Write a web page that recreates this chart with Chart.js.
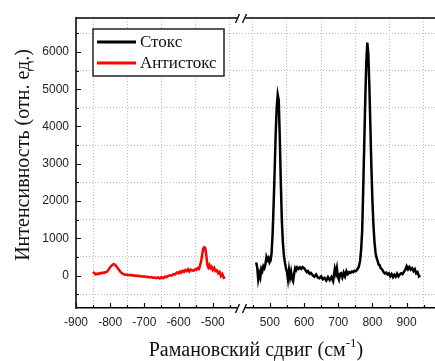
<!DOCTYPE html>
<html>
<head>
<meta charset="utf-8">
<script src="https://cdn.jsdelivr.net/npm/chart.js@4/dist/chart.umd.min.js"></script>
<style>
  html, body { margin: 0; padding: 0; background: #fff; }
</style>
</head>
<body>
<canvas id="myChart" width="435" height="361"></canvas>
<script>
// Anti-Stokes part of the spectrum (negative shifts)
const antiX = [-850, -846, -842, -838, -834, -830, -826, -822, -818, -814, -810, -806, -802, -798, -794, -790, -786, -782, -778, -774, -770, -766, -762, -758, -754, -750, -745, -740, -735, -730, -725, -720, -715, -710, -705, -700, -695, -690, -685, -680, -675, -670, -665, -660, -655, -650, -645, -640, -635, -630, -625, -620, -615, -610, -605, -600, -596, -592, -588, -584, -580, -576, -572, -568, -564, -560, -556, -552, -548, -544, -540, -537, -534, -531, -528, -525, -522, -519, -516, -513, -510, -507, -504, -500, -496, -492, -488, -484, -480, -476, -472, -468, -464];
const antiY = [100, 60, 30, 50, 40, 70, 60, 80, 70, 90, 100, 140, 200, 250, 280, 310, 290, 250, 200, 150, 100, 70, 40, 30, 20, 20, 10, 20, 0, 10, -10, 0, -20, -10, -30, -20, -40, -30, -50, -40, -60, -50, -70, -50, -80, -40, -70, -30, -40, -10, 10, 0, 40, 30, 80, 60, 110, 80, 130, 100, 150, 120, 170, 110, 160, 140, 130, 170, 150, 200, 180, 280, 380, 560, 720, 760, 740, 560, 300, 220, 280, 200, 240, 150, 210, 120, 140, 60, 100, -10, 40, -60, -40];

// Stokes part (positive shifts)
const stokesX = [460, 463, 466, 469, 472, 475, 478, 481, 484, 487, 490, 493, 496, 499, 502, 505, 508, 511, 514, 517, 520, 523, 526, 529, 532, 535, 538, 541, 544, 547, 550, 553, 556, 559, 562, 565, 568, 571, 574, 577, 580, 584, 588, 592, 596, 600, 604, 608, 612, 616, 620, 625, 630, 635, 640, 645, 650, 655, 660, 665, 670, 675, 680, 685, 690, 693, 696, 699, 702, 705, 708, 712, 716, 720, 724, 728, 732, 736, 740, 744, 748, 752, 756, 760, 764, 767, 770, 773, 776, 779, 782, 785, 788, 791, 794, 797, 800, 803, 806, 809, 812, 815, 818, 821, 824, 828, 832, 836, 840, 844, 848, 852, 856, 860, 864, 868, 872, 876, 880, 884, 888, 892, 896, 900, 904, 908, 912, 916, 920, 924, 928, 932, 936, 940];
const stokesY = [350, 220, -100, 50, -50, 180, 120, 250, 200, 300, 500, 420, 470, 350, 400, 600, 1100, 1900, 2800, 3800, 4500, 4850, 4700, 3700, 2500, 1500, 900, 550, 350, 200, 100, -100, 150, -50, 100, -80, -150, 50, 200, 150, 220, 180, 220, 180, 230, 200, 150, 90, 120, 50, 70, 10, -30, 30, -50, -70, -20, -100, -60, -130, -40, -120, -40, -150, 180, 60, 200, -40, -110, 40, 60, -50, 80, -20, 120, 40, 90, 70, 110, 90, 130, 120, 170, 230, 400, 700, 1200, 2300, 3500, 4700, 5700, 6250, 5950, 5100, 4000, 2900, 2000, 1350, 900, 620, 480, 400, 300, 280, 200, 170, 100, 60, 80, 30, 60, -20, 40, -40, 20, -30, 50, -20, 30, 60, 40, 100, 150, 250, 170, 230, 160, 200, 120, 170, 60, 90, -20, 10];

// tick positions in cm-1
const xMajor = [-900, -800, -700, -600, -500, 500, 600, 700, 800, 900];
const xMinor = [-850, -750, -650, -550, -450, 450, 550, 650, 750, 850, 950];
const yMajor = [0, 1000, 2000, 3000, 4000, 5000, 6000];
const yMinor = [-500, 500, 1500, 2500, 3500, 4500, 5500, 6500];

// the axis is broken: positive shifts are moved left by SHIFT
const SHIFT = 833;
const BREAK = -416;
const axisX = x => (x > 0 ? x - SHIFT : x);
const realX = v => (v > BREAK ? Math.round(v + SHIFT) : v);

const toPoints = (xs, ys) => xs.map((x, i) => ({ x: axisX(x), y: ys[i] }));

const sans = '"Liberation Sans", Arial, sans-serif';
const serif = '"Liberation Serif", "Times New Roman", serif';
const gridColor = '#bdbdbd';

const framePlugin = {
	id: 'frame',
	afterDraw(chart) {
		const { ctx, chartArea: a, scales } = chart;
		const xs = scales.x, ys = scales.y;
		ctx.save();

		// top axis line
		ctx.strokeStyle = '#000';
		ctx.lineWidth = 1.5;
		ctx.beginPath();
		ctx.moveTo(a.left, a.top);
		ctx.lineTo(a.right, a.top);
		ctx.stroke();

		// inward tick marks
		ctx.lineWidth = 1.2;
		ctx.strokeStyle = '#111';
		ctx.beginPath();
		xMajor.concat(xMinor).forEach(v => {
			const px = Math.round(xs.getPixelForValue(axisX(v))) + 0.5;
			const len = xMajor.includes(v) ? 5 : 3;
			ctx.moveTo(px, a.bottom);
			ctx.lineTo(px, a.bottom - len);
		});
		yMajor.concat(yMinor).forEach(v => {
			const py = Math.round(ys.getPixelForValue(v)) + 0.5;
			const len = yMajor.includes(v) ? 5 : 3;
			ctx.moveTo(a.left, py);
			ctx.lineTo(a.left + len, py);
		});
		ctx.stroke();

		// break marks on top and bottom axes
		const bx = xs.getPixelForValue(BREAK);
		[a.top, a.bottom].forEach(yy => {
			ctx.fillStyle = '#fff';
			ctx.fillRect(bx - 4, yy - 2, 8, 4);
			ctx.strokeStyle = '#000';
			ctx.lineWidth = 1.3;
			ctx.beginPath();
			ctx.moveTo(bx - 6, yy + 5);
			ctx.lineTo(bx - 2, yy - 4);
			ctx.moveTo(bx + 1, yy + 5);
			ctx.lineTo(bx + 5, yy - 4);
			ctx.stroke();
		});

		// axis titles
		ctx.fillStyle = '#111';
		ctx.font = '20px ' + serif;
		ctx.textAlign = 'center';
		ctx.textBaseline = 'middle';
		ctx.save();
		ctx.translate(24, 155);
		ctx.rotate(-Math.PI / 2);
		ctx.fillText('Интенсивность (отн. ед.)', 0, 0);
		ctx.restore();

		const main = 'Рамановский сдвиг (см';
		const sup = '-1';
		ctx.textBaseline = 'alphabetic';
		ctx.textAlign = 'left';
		ctx.font = '20px ' + serif;
		const wMain = ctx.measureText(main).width;
		const wParen = ctx.measureText(')').width;
		ctx.font = '13px ' + serif;
		const wSup = ctx.measureText(sup).width;
		let tx = 256 - (wMain + wSup + wParen) / 2;
		ctx.font = '20px ' + serif;
		ctx.fillText(main, tx, 356);
		ctx.font = '13px ' + serif;
		ctx.fillText(sup, tx + wMain, 347);
		ctx.font = '20px ' + serif;
		ctx.fillText(')', tx + wMain + wSup, 356);

		// legend box
		const lx = a.left + 17, ly = a.top + 11, lw = 131, lh = 47;
		ctx.fillStyle = '#fff';
		ctx.fillRect(lx, ly, lw, lh);
		ctx.strokeStyle = '#222';
		ctx.lineWidth = 1.5;
		ctx.strokeRect(lx, ly, lw, lh);
		ctx.font = '17px ' + serif;
		ctx.textBaseline = 'middle';
		chart.data.datasets.forEach((ds, i) => {
			const yy = ly + 13 + i * 21;
			ctx.strokeStyle = ds.borderColor;
			ctx.lineWidth = 3;
			ctx.beginPath();
			ctx.moveTo(lx + 4, yy);
			ctx.lineTo(lx + 43, yy);
			ctx.stroke();
			ctx.fillStyle = '#111';
			ctx.fillText(ds.label, lx + 47, yy + 1);
		});

		ctx.restore();
	}
};

new Chart('myChart', {
	type: 'line',
	data: {
		datasets: [
			{
				label: 'Стокс',
				data: toPoints(stokesX, stokesY),
				borderColor: '#000000',
				backgroundColor: '#000000',
				borderWidth: 2.5,
				pointRadius: 0,
				tension: 0,
			},
			{
				label: 'Антистокс',
				data: toPoints(antiX, antiY),
				borderColor: '#ff0000',
				backgroundColor: '#ff0000',
				borderWidth: 2.5,
				pointRadius: 0,
				tension: 0,
			},
		],
	},
	options: {
		responsive: false,
		animation: false,
		layout: { padding: { top: 18, right: 0, left: 0, bottom: 0 } },
		plugins: {
			legend: { display: false },
			tooltip: { enabled: false },
		},
		scales: {
			x: {
				type: 'linear',
				min: -900,
				max: 150,
				afterBuildTicks: scale => {
					scale.ticks = xMajor.concat(xMinor)
						.map(axisX)
						.sort((p, q) => p - q)
						.map(v => ({ value: v }));
				},
				afterFit: scale => { scale.height = 53; },
				ticks: {
					autoSkip: false,
					maxRotation: 0,
					padding: 7,
					color: '#222',
					font: { family: sans, size: 12 },
					callback: v => (xMajor.includes(realX(v)) ? String(realX(v)) : ''),
				},
				grid: {
					drawTicks: false,
					lineWidth: 1,
					color: c => (c.tick && xMinor.includes(realX(c.tick.value)) ? gridColor : 'rgba(0,0,0,0)'),
				},
				border: { display: true, color: '#000', width: 1.5, dash: [1, 2] },
			},
			y: {
				min: -870,
				max: 6910,
				afterBuildTicks: scale => {
					scale.ticks = yMinor.concat(yMajor)
						.sort((p, q) => p - q)
						.map(v => ({ value: v }));
				},
				afterFit: scale => { scale.width = 76; },
				ticks: {
					autoSkip: false,
					padding: 7,
					color: '#222',
					font: { family: sans, size: 12 },
					callback: v => (yMajor.includes(v) ? String(v) : ''),
				},
				grid: {
					drawTicks: false,
					lineWidth: 1,
					color: c => (c.tick && yMinor.includes(c.tick.value) ? gridColor : 'rgba(0,0,0,0)'),
				},
				border: { display: true, color: '#3a3a3a', width: 2, dash: [1, 2] },
			},
		},
	},
	plugins: [framePlugin],
});
</script>
</body>
</html>
